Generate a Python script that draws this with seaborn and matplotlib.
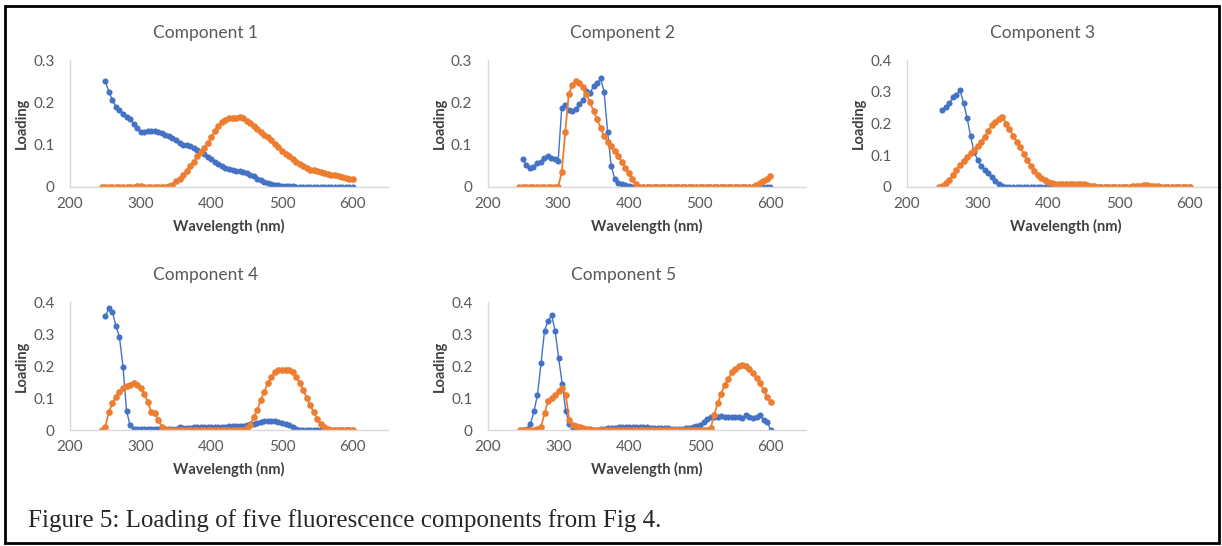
import numpy as np
import pandas as pd
import seaborn as sns
import matplotlib.pyplot as plt
from matplotlib.patches import Rectangle

# wavelength grids (nm)
ex_wl = list(range(250, 605, 5))
em_wl = list(range(245, 605, 5))

titles = ["Component 1", "Component 2", "Component 3", "Component 4", "Component 5"]
y_max = [0.3, 0.3, 0.4, 0.4, 0.4]
x_ticks = [200, 300, 400, 500, 600]
caption = "Figure 5: Loading of five fluorescence components from Fig 4."

ex_c1 = [0.25, 0.225, 0.205, 0.19, 0.182, 0.172, 0.165, 0.16, 0.15, 0.14, 0.13,
         0.131, 0.133, 0.133, 0.133, 0.131, 0.128, 0.124, 0.12, 0.115, 0.11,
         0.104, 0.1, 0.099, 0.096, 0.092, 0.088, 0.083, 0.077, 0.072, 0.066,
         0.06, 0.055, 0.05, 0.046, 0.043, 0.04, 0.038, 0.037, 0.036, 0.033,
         0.029, 0.025, 0.02, 0.016, 0.012, 0.009, 0.007, 0.005, 0.004, 0.003,
         0.002, 0.002, 0.002, 0.001, 0.001, 0.001, 0.001, 0.001, 0.001, 0.001,
         0.001, 0.001, 0.001, 0.001, 0.001, 0.001, 0.001, 0.001, 0.001, 0.001]
em_c1 = [0, 0, 0, 0, 0, 0, 0.001, 0.001, 0.001, 0.001,
         0.002, 0.002, 0.001, 0.001, 0.001, 0.001, 0.001, 0.001, 0.001, 0.002,
         0.005, 0.013, 0.02, 0.029, 0.038, 0.049, 0.06, 0.073, 0.083, 0.093,
         0.105, 0.117, 0.133, 0.145, 0.153, 0.159, 0.162, 0.163, 0.164, 0.165,
         0.162, 0.157, 0.151, 0.145, 0.138, 0.131, 0.124, 0.117, 0.11, 0.102,
         0.094, 0.085, 0.079, 0.073, 0.066, 0.059, 0.054, 0.049, 0.045, 0.041,
         0.039, 0.037, 0.035, 0.033, 0.031, 0.029, 0.028, 0.026, 0.024, 0.021,
         0.02, 0.018]

ex_c2 = [0.065, 0.052, 0.046, 0.048, 0.056, 0.06, 0.068, 0.073, 0.068, 0.066,
         0.062, 0.186, 0.193, 0.181, 0.18, 0.185, 0.195, 0.205, 0.227, 0.221,
         0.238, 0.245, 0.257, 0.225, 0.13, 0.05, 0.02, 0.01, 0.006, 0.004,
         0.002, 0.001,
         0, 0, 0, 0, 0, 0, 0, 0, 0, 0,
         0, 0, 0, 0, 0, 0, 0, 0, 0, 0,
         0, 0, 0, 0, 0, 0, 0, 0, 0, 0,
         0, 0, 0, 0, 0, 0, 0, 0, 0]
em_c2 = [0, 0, 0, 0, 0, 0, 0, 0, 0, 0, 0, 0,
         0.035, 0.13, 0.22, 0.24, 0.25, 0.246, 0.237, 0.22, 0.2, 0.18,
         0.16, 0.14, 0.12, 0.107, 0.097, 0.085, 0.073, 0.059, 0.045, 0.033,
         0.019, 0.006,
         0, 0, 0, 0, 0, 0, 0, 0, 0, 0,
         0, 0, 0, 0, 0, 0, 0, 0, 0, 0,
         0, 0, 0, 0, 0, 0, 0, 0, 0, 0,
         0, 0, 0,
         0.005, 0.01, 0.015, 0.02, 0.025]

ex_c3 = [0.243, 0.253, 0.264, 0.282, 0.29, 0.305, 0.265, 0.218, 0.16, 0.11,
         0.085, 0.065, 0.055, 0.045, 0.03, 0.018, 0.008, 0.002,
         0, 0, 0, 0, 0, 0, 0, 0, 0, 0,
         0, 0, 0, 0, 0, 0, 0, 0, 0, 0,
         0, 0, 0, 0, 0, 0, 0, 0, 0, 0,
         0, 0, 0, 0, 0, 0, 0, 0, 0, 0,
         0, 0, 0, 0, 0, 0, 0, 0, 0, 0,
         0, 0, 0]
em_c3 = [0, 0.002, 0.012, 0.022, 0.038, 0.054, 0.069, 0.082, 0.096, 0.106,
         0.117, 0.13, 0.143, 0.159, 0.176, 0.195, 0.206, 0.213, 0.222, 0.2,
         0.183, 0.162, 0.143, 0.125, 0.105, 0.085, 0.066, 0.05, 0.038, 0.029,
         0.021, 0.016, 0.012, 0.011, 0.01, 0.009, 0.009, 0.008, 0.009, 0.009,
         0.008, 0.008, 0.007, 0.004, 0.002, 0.001, 0.001, 0.001, 0.001, 0.001,
         0.001, 0.001, 0.001, 0.001, 0.001, 0.002, 0.003, 0.004, 0.005, 0.005,
         0.004, 0.003, 0.002, 0.001, 0, 0, 0, 0, 0, 0,
         0, 0]

ex_c4 = [0.355, 0.38, 0.37, 0.325, 0.29, 0.198, 0.06, 0.015, 0.002, 0.002,
         0.002, 0.002, 0.002, 0.002, 0.002, 0.002, 0.002, 0.002, 0.003, 0.003,
         0.004, 0.008, 0.006, 0.006, 0.007, 0.008, 0.008, 0.008, 0.009, 0.009,
         0.01, 0.01, 0.01, 0.01, 0.01, 0.011, 0.011, 0.012, 0.012, 0.013,
         0.015, 0.018, 0.02, 0.023, 0.025, 0.028, 0.029, 0.028, 0.027, 0.025,
         0.022, 0.02, 0.017, 0.01, 0.004, 0.001, 0, 0, 0, 0,
         0, 0, 0, 0, 0, 0, 0, 0, 0, 0,
         0]
em_c4 = [0, 0.01, 0.057, 0.083, 0.104, 0.12, 0.13, 0.138, 0.142, 0.146,
         0.14, 0.13, 0.114, 0.088, 0.057, 0.052, 0.031, 0.01, 0.003, 0,
         0, 0, 0, 0, 0, 0, 0, 0, 0, 0,
         0, 0, 0, 0, 0, 0, 0, 0, 0, 0,
         0.001, 0.005, 0.016, 0.04, 0.062, 0.094, 0.12, 0.146, 0.166, 0.18,
         0.186, 0.188, 0.188, 0.187, 0.18, 0.167, 0.148, 0.125, 0.1, 0.078,
         0.055, 0.035, 0.02, 0.01, 0.003, 0, 0, 0, 0, 0,
         0, 0]

ex_c5 = [0, 0.003, 0.018, 0.058, 0.11, 0.208, 0.31, 0.342, 0.359, 0.31,
         0.224, 0.145, 0.06, 0.02, 0.005, 0.002, 0.001, 0.001, 0.001, 0.001,
         0.001, 0.001, 0.002, 0.003, 0.005, 0.006, 0.007, 0.008, 0.008, 0.008,
         0.009, 0.009, 0.009, 0.008, 0.008, 0.008, 0.007, 0.007, 0.006, 0.006,
         0.005, 0.005, 0.004, 0.004, 0.004, 0.004, 0.005, 0.006, 0.009, 0.012,
         0.016, 0.026, 0.034, 0.04, 0.042, 0.042, 0.043, 0.042, 0.041, 0.04,
         0.042, 0.04, 0.036, 0.046, 0.04, 0.036, 0.04, 0.047, 0.031, 0.026,
         0]
em_c5 = [0, 0, 0, 0, 0, 0.003, 0.01, 0.052, 0.09, 0.1,
         0.11, 0.122, 0.13, 0.11, 0.031, 0.016, 0.012, 0.01, 0.007, 0.004,
         0.002, 0, 0, 0, 0, 0, 0, 0, 0, 0,
         0, 0, 0, 0, 0, 0, 0, 0, 0, 0,
         0, 0, 0, 0, 0, 0, 0, 0, 0, 0,
         0, 0, 0, 0, 0.005, 0.047, 0.083, 0.114, 0.14, 0.16,
         0.18, 0.192, 0.2, 0.203, 0.2, 0.19, 0.177, 0.161, 0.146, 0.125,
         0.104, 0.088]

excitation = [ex_c1, ex_c2, ex_c3, ex_c4, ex_c5]
emission = [em_c1, em_c2, em_c3, em_c4, em_c5]

sns.set_style("white")
plt.rcParams['font.family'] = ['Lato', 'DejaVu Sans']

fig = plt.figure(figsize=(12.22, 5.46), dpi=100)
W, H = 1222, 546

# panel boxes in pixels: left, top, right, bottom
boxes = [(70, 60, 388, 187), (487.5, 60, 805.5, 187), (907, 60, 1225, 187),
         (70, 302, 388, 430), (488, 302, 806, 430)]

grey = "#595959"
for i, (l, t, r, b) in enumerate(boxes):
    ax = fig.add_axes([l / W, 1 - b / H, (r - l) / W, (b - t) / H])
    ex_df = pd.DataFrame({"wl": ex_wl, "loading": excitation[i]})
    em_df = pd.DataFrame({"wl": em_wl, "loading": emission[i]})
    sns.lineplot(data=ex_df, x="wl", y="loading", color="#4472C4",
                 estimator=None, sort=False, marker="o", markersize=4.4,
                 markeredgewidth=0, linewidth=1.0, ax=ax)
    sns.lineplot(data=em_df, x="wl", y="loading", color="#ED7D31",
                 estimator=None, sort=False, marker="o", markersize=4.8,
                 markeredgewidth=0, linewidth=1.3, ax=ax)
    ax.set_xlim(200, 650)
    ax.set_ylim(0, y_max[i])
    ax.set_xticks(x_ticks)
    yt = np.round(np.arange(0, y_max[i] + 0.01, 0.1), 1)
    ax.set_yticks(yt)
    ax.set_yticklabels(["0" if v == 0 else f"{v:.1f}" for v in yt])
    for s in ["top", "right"]:
        ax.spines[s].set_visible(False)
    for s in ["left", "bottom"]:
        ax.spines[s].set_color("#d9d9d9")
        ax.spines[s].set_linewidth(1)
    ax.tick_params(length=0, labelsize=11, labelcolor=grey)
    ax.tick_params(axis="x", pad=7)
    ax.tick_params(axis="y", pad=11)
    ax.set_xlabel("Wavelength (nm)", fontsize=10.5, fontweight="bold",
                  color="#404040", labelpad=6)
    ax.set_ylabel("Loading", fontsize=10.5, fontweight="bold",
                  color="#404040", labelpad=3)
    ax.set_title(titles[i], fontsize=12.5, color=grey, x=0.425, pad=16)

fig.text(28 / W, 1 - 527 / H, caption, fontsize=18,
         family=["Liberation Serif", "DejaVu Serif"], va="baseline")

fig.patches.append(Rectangle((5 / W, 3 / H), 1214 / W, 537 / H,
                             transform=fig.transFigure, fill=False,
                             edgecolor="black", linewidth=2))

fig.savefig("out.png", dpi=100)
